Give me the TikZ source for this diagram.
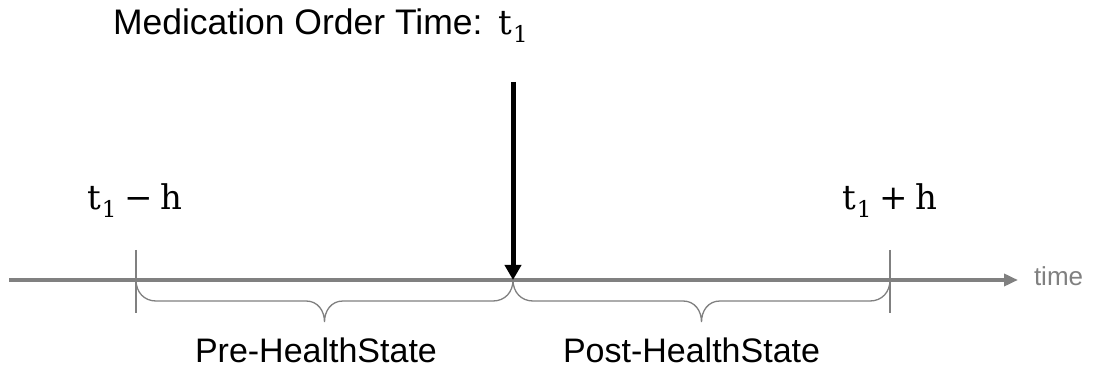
\documentclass[tikz,border=0pt]{standalone}
\usepackage[no-math]{fontspec}
\setmainfont{Liberation Sans}
\newfontfamily\mserif{DejaVu Serif}
\usetikzlibrary{arrows.meta}
\definecolor{axisgray}{RGB}{128,128,128}
\newcommand{\tone}{t\kern1pt\raisebox{-8pt}{\fontsize{23}{24}\selectfont 1}}
\tikzset{
  axisline/.style={draw=axisgray, line width=3.5pt, -{Triangle[length=14pt,width=12pt]}},
  tickline/.style={draw=axisgray, line width=1.5pt},
  braceline/.style={draw=axisgray, line width=1.3pt},
  orderarrow/.style={draw=black, line width=5pt, -{Triangle[length=15pt,width=16pt]}},
  lbl/.style={inner sep=0pt, outer sep=0pt, font=\fontsize{34}{40}\selectfont},
  mlbl/.style={inner sep=0pt, outer sep=0pt, font=\mserif\fontsize{34}{42}\selectfont},
}
\begin{document}
\begin{tikzpicture}[x=1pt,y=1pt]
\useasboundingbox (0,0) rectangle (1093,379);
% axis points
\coordinate (A0) at (9,99);
\coordinate (A1) at (1018,99);
\coordinate (L) at (136,99);
\coordinate (M) at (513,99);
\coordinate (R) at (890,99);
\coordinate (Ltop) at (136,129);
\coordinate (Lbot) at (136,66);
\coordinate (Rtop) at (890,129);
\coordinate (Rbot) at (890,66);
\coordinate (Mtop) at (513,297);
% axis
\draw[axisline] (A0) -- (A1);
\node[lbl, anchor=base west, text=axisgray, font=\fontsize{26}{30}\selectfont] (time) at (1034,93) {time};
% ticks
\draw[tickline] (Ltop) -- (Lbot);
\draw[tickline] (Rtop) -- (Rbot);
% braces
\draw[braceline] (L) .. controls (136,87) and (144,78) .. (156,78)
  -- (306,78) .. controls (318,78) and (324.5,68) .. (324.5,57)
  .. controls (324.5,68) and (331,78) .. (343,78)
  -- (493,78) .. controls (505,78) and (513,87) .. (M);
\draw[braceline] (M) .. controls (513,87) and (521,78) .. (533,78)
  -- (683,78) .. controls (695,78) and (701.5,68) .. (701.5,57)
  .. controls (701.5,68) and (708,78) .. (720,78)
  -- (870,78) .. controls (882,78) and (890,87) .. (R);
% order arrow
\draw[orderarrow] (Mtop) -- (M);
% labels
\node[lbl, anchor=base west, font=\fontsize{35.5}{42}\selectfont] (title) at (113,344)
  {Medication Order Time:\hspace{16pt}{\mserif\fontsize{34}{42}\selectfont\tone}};
\node[mlbl, anchor=base] (tminus) at (135,169) {\tone\hspace{8pt}−\hspace{8pt}h};
\node[mlbl, anchor=base] (tplus) at (890,169) {\tone\hspace{8pt}+\hspace{8pt}h};
\node[lbl, anchor=base west] (pre) at (195,16) {Pre-HealthState};
\node[lbl, anchor=base west] (post) at (563,16) {Post-HealthState};
\end{tikzpicture}
\end{document}
